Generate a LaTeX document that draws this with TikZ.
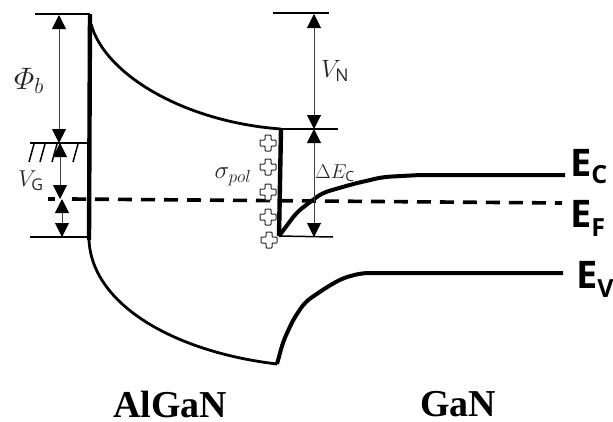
\RequirePackage{fix-cm}
\documentclass[tikz,border=0pt]{standalone}
\usepackage{amsmath}
\usepackage{fontspec}
\setmainfont{Liberation Serif}
\setsansfont{Open Sans}
\usetikzlibrary{arrows.meta, calc}
\newcommand{\bandsub}[2]{\raisebox{-#1pt}{\fontsize{25}{25}\selectfont #2}}

\begin{document}
\begin{tikzpicture}[
    x=1pt, y=-1pt,
    >={Triangle[length=14pt,width=14pt,color=black]},
    band_line/.style={
        line width=4.4pt,
        color=black
    },
    edge_line/.style={
        line width=4pt,
        rounded corners=7pt
    },
    fermi_line/.style={
        line width=3.6pt,
        dash pattern=on 14pt off 9pt
    },
    level_line/.style={
        line width=1.5pt
    },
    arrow_dim/.style={
        <->,
        line width=1pt,
        color=black!75
    },
    band_label/.style={
        font=\sffamily\bfseries\fontsize{38}{38}\selectfont,
        anchor=base west,
        inner sep=0pt
    },
    mat_label/.style={
        font=\rmfamily\bfseries\fontsize{38}{38}\selectfont,
        inner sep=0pt
    },
    dim_label/.style={
        font=\fontsize{25}{25}\selectfont,
        color=black!85,
        inner sep=0pt
    }
]
    \useasboundingbox (0,0) rectangle (613,421);

    % Level ends
    \coordinate (top_l) at (35,14);
    \coordinate (top_r) at (90,14);
    \coordinate (gate_l) at (30,143);
    \coordinate (gate_r) at (88,143);
    \coordinate (fermi_tick) at (48,199);
    \coordinate (low_l) at (30,237);
    \coordinate (low_r) at (88,237);
    \coordinate (vn_l) at (273,13);
    \coordinate (vn_r) at (329,13);
    \coordinate (ec_l) at (281,129);
    \coordinate (ec_r) at (338,129);
    \coordinate (well_l) at (279,236);
    \coordinate (well_r) at (333,237);
    \coordinate (val_low) at (277,364);

    % Thin levels
    \draw [level_line] (top_l) -- (top_r);
    \draw [level_line] (gate_l) -- (gate_r);
    \draw [level_line] (low_l) -- (low_r);
    \draw [level_line] (vn_l) -- (vn_r);
    \draw [level_line] (ec_l) -- (ec_r);
    \draw [level_line] (well_l) -- (well_r);

    % Gate hatching
    \foreach \hx in {29,40,52,73}
        \draw [level_line] (\hx,162) -- ++(5,-18);

    % Band edges
    \draw [band_line] (top_r) -- (89,240);
    \draw [line width=2.8pt] (91,24) .. controls (105,75) and (185,122) .. (ec_l);
    \draw [band_line] (ec_l) -- (well_l);
    \draw [line width=2.8pt] (89,240) .. controls (92,305) and (175,352) .. (val_low);
    \draw [edge_line] (val_low) -- (283,342) -- (293,320) -- (305,302) -- (327,287)
        -- (343,278) -- (362,273) -- (563,273);
    \draw [edge_line] (well_l) -- (297,212) -- (322,193) -- (353,184)
        -- (383,177) -- (420,175) -- (565,175);

    % Fermi level
    \draw [fermi_line] (72,199) -- (562,203);
    \draw [fermi_line, dash pattern=on 14pt off 0pt] (fermi_tick) -- ++(7,0);

    % Polarization charge
    \foreach \px/\py in {268/143, 268/167, 268/192, 268/217, 269/240}
        \draw [line width=1pt, fill=white, rounded corners=0.8pt, draw=black!85]
            (\px-3,\py-8) -- ++(6,0) -- ++(0,5) -- ++(5,0) -- ++(0,6) -- ++(-5,0)
            -- ++(0,5) -- ++(-6,0) -- ++(0,-5) -- ++(-5,0) -- ++(0,-6) -- ++(5,0) -- cycle;

    % Dimension arrows
    \draw [arrow_dim] (59,15) -- (59,143);
    \draw [arrow_dim] (60,143) -- (60,199);
    \draw [arrow_dim] (62,199) -- (62,237);
    \draw [arrow_dim] (314,14) -- (314,129);
    \draw [arrow_dim] (314,129) -- (314,237);

    % Labels
    \node (phi_lbl) [dim_label, font=\fontsize{31}{31}\selectfont] at (29,81) {$\varPhi_b$};
    \node (vg_lbl) [dim_label, font=\fontsize{23}{23}\selectfont] at (31,181) {$V_{\mathsf{G}}$};
    \node (vn_lbl) [dim_label] at (335,71) {$V_{\mathsf{N}}$};
    \node (sig_lbl) [dim_label, font=\fontsize{25}{25}\selectfont] at (233,177) {$\sigma_{pol}$};
    \node (de_lbl) [dim_label, font=\fontsize{20}{20}\selectfont] at (335,173) {$\Delta E_{\mathsf{C}}$};

    \node (ec_lbl) [band_label] at (570,176) {E\bandsub{7}{C}};
    \node (ef_lbl) [band_label] at (570,227) {E\bandsub{9}{F}};
    \node (ev_lbl) [band_label] at (576,288) {E\bandsub{9}{V}};

    \node (algan_lbl) [mat_label] at (170,404) {AlGaN};
    \node (gan_lbl) [mat_label] at (458,404) {GaN};

\end{tikzpicture}
\end{document}
